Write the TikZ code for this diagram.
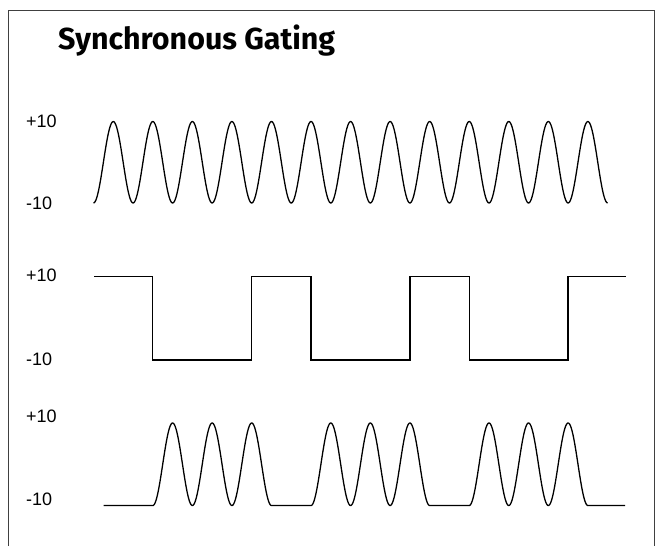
\documentclass[tikz,border=0pt]{standalone}
\usepackage{fontspec}
\setmainfont{Liberation Sans}
\newfontfamily\titlefont{Fira Sans}
\begin{document}
\begin{tikzpicture}[x=1pt,y=-1pt,
  lbl/.style={anchor=base west,inner sep=0pt,font=\fontsize{18}{20}\selectfont},
  ttl/.style={anchor=base west,inner sep=0pt,font=\titlefont\bfseries\fontsize{30.4}{32}\selectfont},
  wave/.style={line width=1.3pt,line join=round},
  sq/.style={line width=1.2pt,line join=miter},
  frame/.style={line width=1pt,draw=black!75}]
\useasboundingbox (0,0) rectangle (655,546);
% frame
\draw[frame] (8.5,546) -- (8.5,10) -- (654.3,10) -- (654.3,546);
% title
\node[ttl] (title) at (58,49.5) {Synchronous Gating};
% labels
\node[lbl] (p1) at (26,127) {+10};
\node[lbl] (m1) at (26,209) {-10};
\node[lbl] (p2) at (26,281.7) {+10};
\node[lbl] (m2) at (26,365) {-10};
\node[lbl] (p3) at (26,422.7) {+10};
\node[lbl] (m3) at (26,505.3) {-10};
% wave 1: continuous sine
\draw[wave] plot[domain=0:13,samples=600,smooth]
  ({93.5+39.55*\x},{162.25+40.75*cos(360*\x)});
% wave 2: square gate
\draw[sq] (94,276.7) -- (152.8,276.7) -- (152.8,360) -- (251.7,360) -- (251.7,276.7)
  -- (311,276.7) -- (311,360) -- (409.9,360) -- (409.9,276.7)
  -- (469.1,276.7) -- (469.1,360) -- (568,360) -- (568,276.7) -- (626,276.7);
% wave 3: gated sine
\draw[wave] (103.5,505.5)
  -- plot[domain=1.5:4.5,samples=250,smooth] ({93.5+39.55*\x},{464.25+41.25*cos(360*(\x-1.5))})
  -- plot[domain=5.5:8.5,samples=250,smooth] ({93.5+39.55*\x},{464.25+41.25*cos(360*(\x-5.5))})
  -- plot[domain=9.5:12.5,samples=250,smooth] ({93.5+39.55*\x},{464.25+41.25*cos(360*(\x-9.5))})
  -- (625,505.5);
\end{tikzpicture}
\end{document}
